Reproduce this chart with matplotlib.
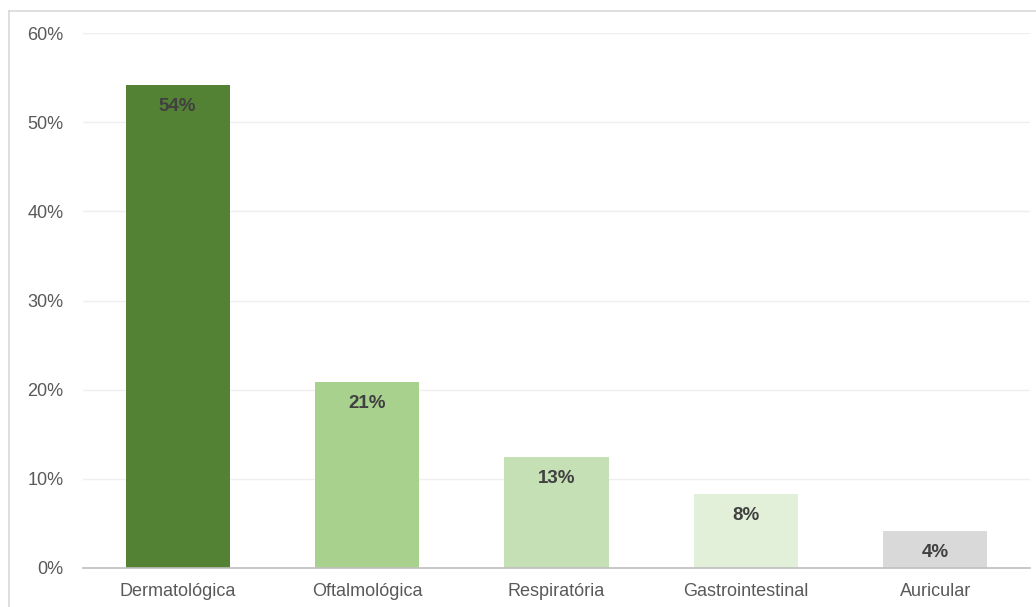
import matplotlib
matplotlib.use("Agg")
import matplotlib.pyplot as plt
from matplotlib.lines import Line2D
from matplotlib.ticker import FuncFormatter

categories = ["Dermatológica", "Oftalmológica", "Respiratória", "Gastrointestinal", "Auricular"]
values = [54.17, 20.83, 12.5, 8.33, 4.17]
labels = ["54%", "21%", "13%", "8%", "4%"]
colors = ["#548235", "#A9D18E", "#C5E0B4", "#E2F0D9", "#D9D9D9"]
yticks = [0, 10, 20, 30, 40, 50, 60]

plt.rcParams['font.family'] = ['Liberation Sans', 'DejaVu Sans']

W, H = 1036, 607
fig = plt.figure(figsize=(W / 100, H / 100), dpi=100)
ax = fig.add_axes([83 / W, (H - 568) / H, (1030 - 83) / W, (568 - 33) / H])

x = range(len(categories))
bars = ax.bar(x, values, width=0.55, color=colors, zorder=3)
for b, lab in zip(bars, labels):
    ax.annotate(lab, (b.get_x() + b.get_width() / 2, b.get_height()),
                xytext=(0, -15.5), textcoords="offset points",
                ha="center", va="center", fontsize=13.5, fontweight="bold",
                color="#404040", zorder=4)

ax.set_xlim(-0.5, len(categories) - 0.5)
ax.set_ylim(0, 60)
ax.set_yticks(yticks)
ax.yaxis.set_major_formatter(FuncFormatter(lambda v, p: f"{int(v)}%"))
ax.set_xticks(list(x))
ax.set_xticklabels(categories)
ax.tick_params(axis="y", length=0, pad=14, labelsize=13, labelcolor="#595959")
ax.tick_params(axis="x", length=0, pad=10.5, labelsize=13, labelcolor="#595959")
ax.grid(axis="y", color="#EFEFEF", linewidth=1.0, zorder=0)
for s in ["top", "right", "left"]:
    ax.spines[s].set_visible(False)
ax.spines["bottom"].set_color("#BFBFBF")
ax.spines["bottom"].set_linewidth(1.2)
ax.spines["bottom"].set_zorder(5)

# chart area border (left and top edges visible)
fig.add_artist(Line2D([8.5 / W, 8.5 / W], [0, (H - 11) / H], color="#D9D9D9", lw=1.2))
fig.add_artist(Line2D([8.5 / W, 1], [(H - 11) / H, (H - 11) / H], color="#D9D9D9", lw=1.2))

fig.savefig("out.png", dpi=100)
